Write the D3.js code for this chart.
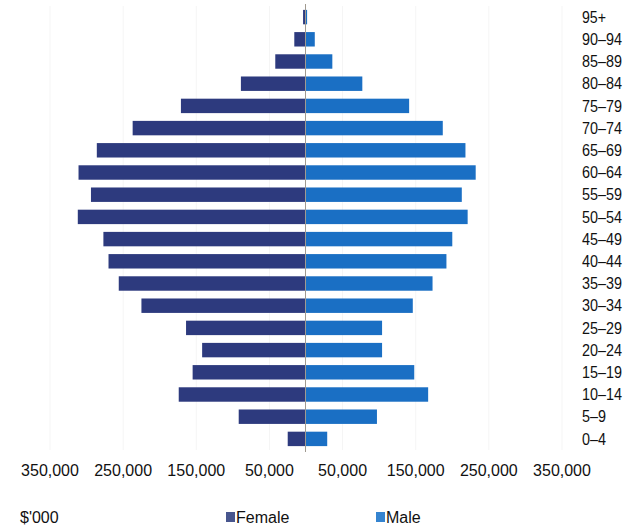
<!DOCTYPE html>
<html><head><meta charset="utf-8">
<script src="https://cdn.jsdelivr.net/npm/d3@7"></script>
<style>
body{margin:0;background:#fff;}
text{font-family:"Liberation Sans Narrow","Arial Narrow","Liberation Sans",sans-serif;fill:#111;}
</style></head>
<body><svg id="c" width="628" height="528"></svg>
<script>
const ageGroups = ["95+","90–94","85–89","80–84","75–79","70–74","65–69","60–64","55–59","50–54","45–49","40–44","35–39","30–34","25–29","20–24","15–19","10–14","5–9","0–4"];
const female = [4000,16000,42000,89000,171000,237000,286000,311000,294000,312000,277000,270000,256000,225000,164000,142000,155000,174000,92000,25000];
const male   = [1500,12000,36000,77000,141000,187000,218000,232000,213000,221000,200000,192000,173000,146000,104000,104000,148000,167000,97000,29000];
const tickValues = [-350000,-250000,-150000,-50000,50000,150000,250000,350000];
const seriesNames = ["Female","Male"];
const unitLabel = "$'000";

const svg = d3.select("#c");
const x = d3.scaleLinear().domain([-350000,350000]).range([50,562]);
const y = d3.scaleBand().domain(ageGroups).range([6,450]).paddingInner(0.35).paddingOuter(0.175);
const colF = "#2d3a7e", colM = "#1a6fc4";

// gridlines
svg.append("g").selectAll("line").data(tickValues).join("line")
  .attr("x1",d=>x(d)).attr("x2",d=>x(d)).attr("y1",6).attr("y2",450)
  .attr("stroke","#f5f5f5").attr("stroke-width",1);

// bars
svg.append("g").selectAll("rect").data(ageGroups).join("rect")
  .attr("x",(d,i)=>x(-female[i])).attr("width",(d,i)=>x(0)-x(-female[i]))
  .attr("y",d=>y(d)).attr("height",y.bandwidth()).attr("fill",colF);
svg.append("g").selectAll("rect").data(ageGroups).join("rect")
  .attr("x",x(0)).attr("width",(d,i)=>x(male[i])-x(0))
  .attr("y",d=>y(d)).attr("height",y.bandwidth()).attr("fill",colM);

// center line
svg.append("line").attr("x1",x(0)-0.5).attr("x2",x(0)-0.5).attr("y1",4).attr("y2",452)
  .attr("stroke","#a09a90").attr("stroke-width",1);

// age labels
svg.append("g").selectAll("text").data(ageGroups).join("text")
  .attr("x",582).attr("y",d=>y(d)+y.bandwidth()/2).attr("dy","0.36em")
  .attr("font-size",16).attr("textLength",d=>d.length>3?40:24).attr("lengthAdjust","spacingAndGlyphs").text(d=>d);

// x axis labels
const fmt = d3.format(",");
svg.append("g").selectAll("text").data(tickValues).join("text")
  .attr("x",d=>x(d)).attr("y",476).attr("text-anchor","middle")
  .attr("font-size",16).text(d=>fmt(Math.abs(d)));

// unit
svg.append("text").attr("x",20).attr("y",523).attr("font-size",16).text(unitLabel);

// legend
const leg = [{n:seriesNames[0],c:"#48568e",x:226},{n:seriesNames[1],c:"#3584d0",x:376}];
leg.forEach(l=>{
  svg.append("rect").attr("x",l.x).attr("y",512).attr("width",9).attr("height",10).attr("fill",l.c);
  svg.append("text").attr("x",l.x+10).attr("y",523).attr("font-size",16).text(l.n);
});
</script></body></html>
